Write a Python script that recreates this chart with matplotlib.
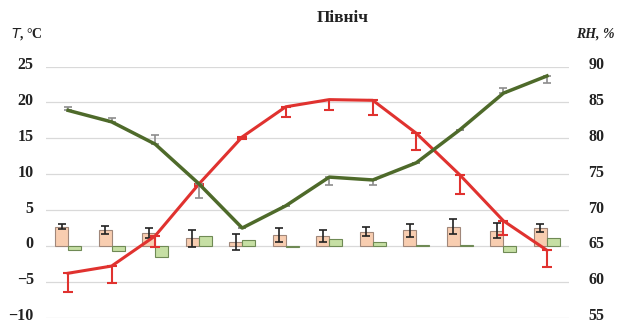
import matplotlib
matplotlib.use("Agg")
import matplotlib.pyplot as plt
import matplotlib.transforms as mtransforms
import numpy as np

months = list(range(1, 13))

# Air temperature, °C (left axis) and its lower error
temp = [-3.8, -2.8, 1.4, 8.6, 15.2, 19.4, 20.4, 20.3, 15.7, 9.9, 3.5, -0.6]
temp_err_lo = [2.6, 2.3, 1.5, 0.3, 0.3, 1.4, 1.5, 2.1, 2.3, 2.6, 2.0, 2.4]

# Relative humidity, % (right axis) with one-sided errors
rh = [83.9, 82.3, 79.2, 73.7, 67.5, 70.6, 74.6, 74.2, 76.6, 81.2, 86.3, 88.7]
rh_err_lo = [0.0, 0.0, 0.0, 2.0, 0.0, 0.0, 1.1, 0.7, 0.0, 0.0, 0.0, 1.0]
rh_err_hi = [0.5, 0.5, 1.3, 0.0, 0.0, 0.0, 0.0, 0.0, 0.0, 0.0, 0.7, 0.0]

# Temperature anomalies (bars on the left axis)
dt = [2.7, 2.2, 1.85, 1.07, 0.6, 1.5, 1.4, 2.0, 2.2, 2.7, 2.1, 2.5]
dt_err = [0.4, 0.55, 0.7, 1.15, 1.1, 0.95, 0.85, 0.65, 0.9, 1.1, 1.05, 0.6]
drh = [-0.6, -0.7, -1.5, 1.4, 0.9, -0.1, 0.95, 0.6, 0.1, 0.2, -0.9, 1.15]

left_ticks = [-10, -5, 0, 5, 10, 15, 20, 25]
right_ticks = [55, 60, 65, 70, 75, 80, 85, 90]

serif = ["Liberation Serif", "DejaVu Serif"]
plt.rcParams["font.family"] = serif

fig = plt.figure(figsize=(6.19, 3.24), dpi=100)
ax = fig.add_axes([0.0748, 0.0194, 0.844, 0.775])
ax2 = ax.twinx()

x = np.arange(len(months))
bw = 0.3

ax.set_axisbelow(True)
ax.yaxis.grid(True, color="#d9d9d9", linewidth=0.9)
ax.bar(x - bw / 2, dt, width=bw, color="#f8cdb0", edgecolor="#a0877a",
       linewidth=0.8, zorder=2)
ax.errorbar(x - bw / 2, dt, yerr=dt_err, fmt="none", ecolor="#222222",
            elinewidth=1.2, capsize=3, capthick=1.2, zorder=3)
ax.bar(x + bw / 2, drh, width=bw, color="#c6dfa4", edgecolor="#6f8a55",
       linewidth=0.8, zorder=2)

ax.errorbar(x, temp, yerr=[temp_err_lo, [0] * 12], fmt="none",
            ecolor="#e0322f", elinewidth=1.5, capsize=3.5, capthick=1.5, zorder=4)
ax.plot(x, temp, color="#e0322f", linewidth=2.2, zorder=5)

ax2.errorbar(x, rh, yerr=[rh_err_lo, rh_err_hi], fmt="none",
             ecolor="#8c8c8c", elinewidth=1.2, capsize=3, capthick=1.2, zorder=4)
ax2.plot(x, rh, color="#4e6a2a", linewidth=2.5, zorder=5)

ax.set_xlim(-0.5, 11.5)
ax.set_ylim(-10, 25)
ax2.set_ylim(55, 90)
ax.set_yticks(left_ticks)
ax2.set_yticks(right_ticks)
ax.set_xticks([])
ax.set_yticklabels(["\u221210", "\u22125", "0", "5", "10", "15", "20", "25"])
ax2.set_yticklabels([str(v) for v in right_ticks])

ax.tick_params(axis="y", length=0, labelsize=11.5, pad=9)
ax2.tick_params(axis="y", length=0, labelsize=11.5, pad=14)

# raise the tick labels slightly above their gridlines
lift = mtransforms.ScaledTranslation(0, 2.5 / 72, fig.dpi_scale_trans)
for a in (ax, ax2):
    for s in a.spines.values():
        s.set_visible(False)
    for tick in a.yaxis.get_major_ticks():
        for lbl in (tick.label1, tick.label2):
            lbl.set_fontweight("bold")
            lbl.set_color("#222222")
            lbl.set_transform(lbl.get_transform() + lift)

fig.text(0.553, 0.945, "Північ", ha="center", va="center", fontsize=12.5,
         fontweight="bold", color="#222222")
fig.text(0.018, 0.895, "$\\mathit{T}$, °C", ha="left", va="center", fontsize=10,
         fontweight="bold", color="#222222")
fig.text(0.992, 0.895, "RH, %", ha="right", va="center", fontsize=10,
         fontweight="bold", style="italic", color="#222222")

fig.savefig("out.png", dpi=100)
